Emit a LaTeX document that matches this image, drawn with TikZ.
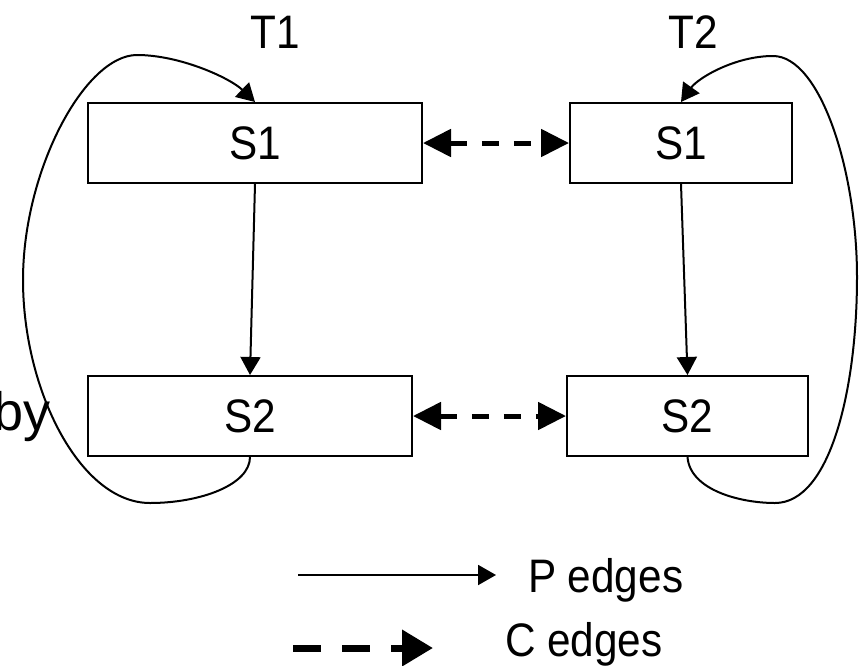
\documentclass[tikz,border=0pt]{standalone}
\usepackage{fontspec}
\setmainfont{Liberation Sans}[FakeStretch=0.9]
\newfontfamily\widefont{Liberation Sans}
\usetikzlibrary{arrows.meta}
\newcommand\labelfont{\fontsize{47}{56}\selectfont}
\begin{document}
\begin{tikzpicture}[x=1pt,y=-1pt,line width=2pt,>={Triangle[length=18pt,width=20pt]},
  every node/.style={font=\labelfont,inner sep=0pt},
  sbox/.style={draw,minimum height=80pt},
  cedge/.style={<->,>={Triangle[length=28pt,width=27pt]},line width=5pt,dash pattern=on 17pt off 15pt}]
\useasboundingbox (0,0) rectangle (865,665);
% two threads, each with two states
\node[sbox,minimum width=334pt] (t1s1) at (255,143) {S1};
\node[sbox,minimum width=222pt] (t2s1) at (681,143) {S1};
\node[sbox,minimum width=324pt] (t1s2) at (250,416) {S2};
\node[sbox,minimum width=241pt] (t2s2) at (687.5,416) {S2};
\node[anchor=base] (t1) at (275,48) {T1};
\node[anchor=base] (t2) at (693,48) {T2};
\node[anchor=base east,font=\widefont\fontsize{54}{60}\selectfont] (by) at (52,430) {by};
% P edges inside a thread
\draw[->] (t1s1.south) -- (t1s2.north);
\draw[->] (t2s1.south) -- (t2s2.north);
\draw[->] (t1s2.south) .. controls (250,485) and (200,503) .. (150,503) .. controls (80,503) and (23,390) .. (23,280)
  .. controls (23,170) and (85,55) .. (137,55) .. controls (180,55) and (230,78) .. (t1s1.north);
\draw[->] (t2s2.south) .. controls (690,490) and (740,503) .. (775,503) .. controls (830,503) and (857,390) .. (857,277)
  .. controls (857,170) and (820,56) .. (773,56) .. controls (735,56) and (698,78) .. (t2s1.north);
% C edges between threads
\draw[cedge] (t1s1.east) -- (t2s1.west);
\draw[cedge] (t1s2.east) -- (t2s2.west);
% legend
\coordinate (pfrom) at (298,575); \coordinate (pto) at (496,575);
\coordinate (cfrom) at (293,648); \coordinate (cto) at (433,648);
\draw[->] (pfrom) -- (pto);
\draw[->,>={Triangle[length=31pt,width=35pt]},line width=7pt,dash pattern=on 28pt off 21pt] (cfrom) -- (cto);
\node[anchor=base west] (plabel) at (527,592) {P edges};
\node[anchor=base west] (clabel) at (504,656) {C edges};
\end{tikzpicture}
\end{document}
